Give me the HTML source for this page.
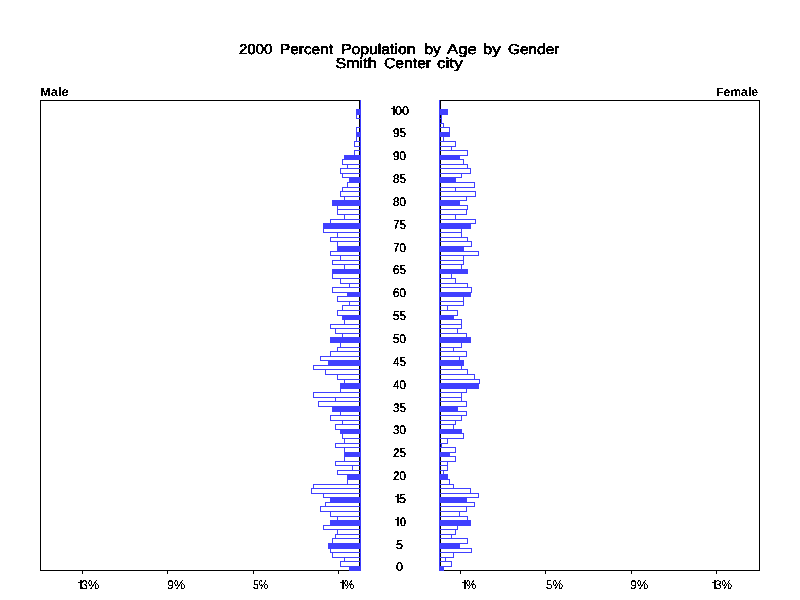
<!DOCTYPE html>
<html><head><meta charset="utf-8"><style>
html,body{margin:0;padding:0;background:#fff;width:800px;height:600px;overflow:hidden}
svg{display:block}
text{font-family:"Liberation Sans", sans-serif;fill:#000;text-rendering:geometricPrecision}
</style></head><body>
<svg width="800" height="600" viewBox="0 0 800 600">
<rect x="0" y="0" width="800" height="600" fill="#fff"/>
<g shape-rendering="crispEdges">
<rect x="40" y="100" width="320" height="1" fill="#000"/>
<rect x="40" y="570" width="320" height="1" fill="#000"/>
<rect x="40" y="100" width="1" height="471" fill="#000"/>
<rect x="359" y="100" width="1" height="471" fill="#000"/>
<rect x="440" y="100" width="320" height="1" fill="#000"/>
<rect x="440" y="570" width="320" height="1" fill="#000"/>
<rect x="440" y="100" width="1" height="471" fill="#000"/>
<rect x="759" y="100" width="1" height="471" fill="#000"/>
<rect x="82" y="571" width="1" height="3" fill="#000"/>
<rect x="167" y="571" width="1" height="3" fill="#000"/>
<rect x="253" y="571" width="1" height="3" fill="#000"/>
<rect x="338" y="571" width="1" height="3" fill="#000"/>
<rect x="460" y="571" width="1" height="3" fill="#000"/>
<rect x="545" y="571" width="1" height="3" fill="#000"/>
<rect x="631" y="571" width="1" height="3" fill="#000"/>
<rect x="716" y="571" width="1" height="3" fill="#000"/>
<rect x="360" y="100" width="1" height="471" fill="#4040ff"/>
<rect x="439" y="100" width="1" height="471" fill="#4040ff"/>
<rect x="356" y="109" width="5" height="6" fill="#4040ff"/>
<rect x="439" y="109" width="9" height="6" fill="#4040ff"/>
<rect x="356" y="114" width="5" height="1" fill="#4040ff"/>
<rect x="356" y="118" width="5" height="1" fill="#4040ff"/>
<rect x="356" y="114" width="1" height="5" fill="#4040ff"/>
<rect x="360" y="114" width="1" height="5" fill="#4040ff"/>
<rect x="439" y="114" width="3" height="1" fill="#4040ff"/>
<rect x="439" y="118" width="3" height="1" fill="#4040ff"/>
<rect x="439" y="114" width="1" height="5" fill="#4040ff"/>
<rect x="441" y="114" width="1" height="5" fill="#4040ff"/>
<rect x="439" y="118" width="3" height="1" fill="#4040ff"/>
<rect x="439" y="123" width="3" height="1" fill="#4040ff"/>
<rect x="439" y="118" width="1" height="6" fill="#4040ff"/>
<rect x="441" y="118" width="1" height="6" fill="#4040ff"/>
<rect x="439" y="123" width="5" height="1" fill="#4040ff"/>
<rect x="439" y="127" width="5" height="1" fill="#4040ff"/>
<rect x="439" y="123" width="1" height="5" fill="#4040ff"/>
<rect x="443" y="123" width="1" height="5" fill="#4040ff"/>
<rect x="356" y="127" width="5" height="1" fill="#4040ff"/>
<rect x="356" y="132" width="5" height="1" fill="#4040ff"/>
<rect x="356" y="127" width="1" height="6" fill="#4040ff"/>
<rect x="360" y="127" width="1" height="6" fill="#4040ff"/>
<rect x="439" y="127" width="11" height="1" fill="#4040ff"/>
<rect x="439" y="132" width="11" height="1" fill="#4040ff"/>
<rect x="439" y="127" width="1" height="6" fill="#4040ff"/>
<rect x="449" y="127" width="1" height="6" fill="#4040ff"/>
<rect x="356" y="132" width="5" height="5" fill="#4040ff"/>
<rect x="439" y="132" width="11" height="5" fill="#4040ff"/>
<rect x="356" y="136" width="5" height="1" fill="#4040ff"/>
<rect x="356" y="141" width="5" height="1" fill="#4040ff"/>
<rect x="356" y="136" width="1" height="6" fill="#4040ff"/>
<rect x="360" y="136" width="1" height="6" fill="#4040ff"/>
<rect x="439" y="136" width="5" height="1" fill="#4040ff"/>
<rect x="439" y="141" width="5" height="1" fill="#4040ff"/>
<rect x="439" y="136" width="1" height="6" fill="#4040ff"/>
<rect x="443" y="136" width="1" height="6" fill="#4040ff"/>
<rect x="354" y="141" width="7" height="1" fill="#4040ff"/>
<rect x="354" y="146" width="7" height="1" fill="#4040ff"/>
<rect x="354" y="141" width="1" height="6" fill="#4040ff"/>
<rect x="360" y="141" width="1" height="6" fill="#4040ff"/>
<rect x="439" y="141" width="17" height="1" fill="#4040ff"/>
<rect x="439" y="146" width="17" height="1" fill="#4040ff"/>
<rect x="439" y="141" width="1" height="6" fill="#4040ff"/>
<rect x="455" y="141" width="1" height="6" fill="#4040ff"/>
<rect x="439" y="146" width="13" height="1" fill="#4040ff"/>
<rect x="439" y="150" width="13" height="1" fill="#4040ff"/>
<rect x="439" y="146" width="1" height="5" fill="#4040ff"/>
<rect x="451" y="146" width="1" height="5" fill="#4040ff"/>
<rect x="354" y="150" width="7" height="1" fill="#4040ff"/>
<rect x="354" y="155" width="7" height="1" fill="#4040ff"/>
<rect x="354" y="150" width="1" height="6" fill="#4040ff"/>
<rect x="360" y="150" width="1" height="6" fill="#4040ff"/>
<rect x="439" y="150" width="29" height="1" fill="#4040ff"/>
<rect x="439" y="155" width="29" height="1" fill="#4040ff"/>
<rect x="439" y="150" width="1" height="6" fill="#4040ff"/>
<rect x="467" y="150" width="1" height="6" fill="#4040ff"/>
<rect x="344" y="155" width="17" height="5" fill="#4040ff"/>
<rect x="439" y="155" width="21" height="5" fill="#4040ff"/>
<rect x="342" y="159" width="19" height="1" fill="#4040ff"/>
<rect x="342" y="164" width="19" height="1" fill="#4040ff"/>
<rect x="342" y="159" width="1" height="6" fill="#4040ff"/>
<rect x="360" y="159" width="1" height="6" fill="#4040ff"/>
<rect x="439" y="159" width="25" height="1" fill="#4040ff"/>
<rect x="439" y="164" width="25" height="1" fill="#4040ff"/>
<rect x="439" y="159" width="1" height="6" fill="#4040ff"/>
<rect x="463" y="159" width="1" height="6" fill="#4040ff"/>
<rect x="347" y="164" width="14" height="1" fill="#4040ff"/>
<rect x="347" y="168" width="14" height="1" fill="#4040ff"/>
<rect x="347" y="164" width="1" height="5" fill="#4040ff"/>
<rect x="360" y="164" width="1" height="5" fill="#4040ff"/>
<rect x="439" y="164" width="29" height="1" fill="#4040ff"/>
<rect x="439" y="168" width="29" height="1" fill="#4040ff"/>
<rect x="439" y="164" width="1" height="5" fill="#4040ff"/>
<rect x="467" y="164" width="1" height="5" fill="#4040ff"/>
<rect x="340" y="168" width="21" height="1" fill="#4040ff"/>
<rect x="340" y="173" width="21" height="1" fill="#4040ff"/>
<rect x="340" y="168" width="1" height="6" fill="#4040ff"/>
<rect x="360" y="168" width="1" height="6" fill="#4040ff"/>
<rect x="439" y="168" width="32" height="1" fill="#4040ff"/>
<rect x="439" y="173" width="32" height="1" fill="#4040ff"/>
<rect x="439" y="168" width="1" height="6" fill="#4040ff"/>
<rect x="470" y="168" width="1" height="6" fill="#4040ff"/>
<rect x="342" y="173" width="19" height="1" fill="#4040ff"/>
<rect x="342" y="177" width="19" height="1" fill="#4040ff"/>
<rect x="342" y="173" width="1" height="5" fill="#4040ff"/>
<rect x="360" y="173" width="1" height="5" fill="#4040ff"/>
<rect x="439" y="173" width="23" height="1" fill="#4040ff"/>
<rect x="439" y="177" width="23" height="1" fill="#4040ff"/>
<rect x="439" y="173" width="1" height="5" fill="#4040ff"/>
<rect x="461" y="173" width="1" height="5" fill="#4040ff"/>
<rect x="349" y="177" width="12" height="6" fill="#4040ff"/>
<rect x="439" y="177" width="17" height="6" fill="#4040ff"/>
<rect x="347" y="182" width="14" height="1" fill="#4040ff"/>
<rect x="347" y="187" width="14" height="1" fill="#4040ff"/>
<rect x="347" y="182" width="1" height="6" fill="#4040ff"/>
<rect x="360" y="182" width="1" height="6" fill="#4040ff"/>
<rect x="439" y="182" width="36" height="1" fill="#4040ff"/>
<rect x="439" y="187" width="36" height="1" fill="#4040ff"/>
<rect x="439" y="182" width="1" height="6" fill="#4040ff"/>
<rect x="474" y="182" width="1" height="6" fill="#4040ff"/>
<rect x="342" y="187" width="19" height="1" fill="#4040ff"/>
<rect x="342" y="191" width="19" height="1" fill="#4040ff"/>
<rect x="342" y="187" width="1" height="5" fill="#4040ff"/>
<rect x="360" y="187" width="1" height="5" fill="#4040ff"/>
<rect x="439" y="187" width="17" height="1" fill="#4040ff"/>
<rect x="439" y="191" width="17" height="1" fill="#4040ff"/>
<rect x="439" y="187" width="1" height="5" fill="#4040ff"/>
<rect x="455" y="187" width="1" height="5" fill="#4040ff"/>
<rect x="340" y="191" width="21" height="1" fill="#4040ff"/>
<rect x="340" y="196" width="21" height="1" fill="#4040ff"/>
<rect x="340" y="191" width="1" height="6" fill="#4040ff"/>
<rect x="360" y="191" width="1" height="6" fill="#4040ff"/>
<rect x="439" y="191" width="37" height="1" fill="#4040ff"/>
<rect x="439" y="196" width="37" height="1" fill="#4040ff"/>
<rect x="439" y="191" width="1" height="6" fill="#4040ff"/>
<rect x="475" y="191" width="1" height="6" fill="#4040ff"/>
<rect x="344" y="196" width="17" height="1" fill="#4040ff"/>
<rect x="344" y="200" width="17" height="1" fill="#4040ff"/>
<rect x="344" y="196" width="1" height="5" fill="#4040ff"/>
<rect x="360" y="196" width="1" height="5" fill="#4040ff"/>
<rect x="439" y="196" width="28" height="1" fill="#4040ff"/>
<rect x="439" y="200" width="28" height="1" fill="#4040ff"/>
<rect x="439" y="196" width="1" height="5" fill="#4040ff"/>
<rect x="466" y="196" width="1" height="5" fill="#4040ff"/>
<rect x="332" y="200" width="29" height="6" fill="#4040ff"/>
<rect x="439" y="200" width="21" height="6" fill="#4040ff"/>
<rect x="337" y="205" width="24" height="1" fill="#4040ff"/>
<rect x="337" y="209" width="24" height="1" fill="#4040ff"/>
<rect x="337" y="205" width="1" height="5" fill="#4040ff"/>
<rect x="360" y="205" width="1" height="5" fill="#4040ff"/>
<rect x="439" y="205" width="29" height="1" fill="#4040ff"/>
<rect x="439" y="209" width="29" height="1" fill="#4040ff"/>
<rect x="439" y="205" width="1" height="5" fill="#4040ff"/>
<rect x="467" y="205" width="1" height="5" fill="#4040ff"/>
<rect x="337" y="209" width="24" height="1" fill="#4040ff"/>
<rect x="337" y="214" width="24" height="1" fill="#4040ff"/>
<rect x="337" y="209" width="1" height="6" fill="#4040ff"/>
<rect x="360" y="209" width="1" height="6" fill="#4040ff"/>
<rect x="439" y="209" width="28" height="1" fill="#4040ff"/>
<rect x="439" y="214" width="28" height="1" fill="#4040ff"/>
<rect x="439" y="209" width="1" height="6" fill="#4040ff"/>
<rect x="466" y="209" width="1" height="6" fill="#4040ff"/>
<rect x="344" y="214" width="17" height="1" fill="#4040ff"/>
<rect x="344" y="219" width="17" height="1" fill="#4040ff"/>
<rect x="344" y="214" width="1" height="6" fill="#4040ff"/>
<rect x="360" y="214" width="1" height="6" fill="#4040ff"/>
<rect x="439" y="214" width="17" height="1" fill="#4040ff"/>
<rect x="439" y="219" width="17" height="1" fill="#4040ff"/>
<rect x="439" y="214" width="1" height="6" fill="#4040ff"/>
<rect x="455" y="214" width="1" height="6" fill="#4040ff"/>
<rect x="330" y="219" width="31" height="1" fill="#4040ff"/>
<rect x="330" y="223" width="31" height="1" fill="#4040ff"/>
<rect x="330" y="219" width="1" height="5" fill="#4040ff"/>
<rect x="360" y="219" width="1" height="5" fill="#4040ff"/>
<rect x="439" y="219" width="37" height="1" fill="#4040ff"/>
<rect x="439" y="223" width="37" height="1" fill="#4040ff"/>
<rect x="439" y="219" width="1" height="5" fill="#4040ff"/>
<rect x="475" y="219" width="1" height="5" fill="#4040ff"/>
<rect x="323" y="223" width="38" height="6" fill="#4040ff"/>
<rect x="439" y="223" width="32" height="6" fill="#4040ff"/>
<rect x="323" y="228" width="38" height="1" fill="#4040ff"/>
<rect x="323" y="232" width="38" height="1" fill="#4040ff"/>
<rect x="323" y="228" width="1" height="5" fill="#4040ff"/>
<rect x="360" y="228" width="1" height="5" fill="#4040ff"/>
<rect x="439" y="228" width="23" height="1" fill="#4040ff"/>
<rect x="439" y="232" width="23" height="1" fill="#4040ff"/>
<rect x="439" y="228" width="1" height="5" fill="#4040ff"/>
<rect x="461" y="228" width="1" height="5" fill="#4040ff"/>
<rect x="337" y="232" width="24" height="1" fill="#4040ff"/>
<rect x="337" y="237" width="24" height="1" fill="#4040ff"/>
<rect x="337" y="232" width="1" height="6" fill="#4040ff"/>
<rect x="360" y="232" width="1" height="6" fill="#4040ff"/>
<rect x="439" y="232" width="23" height="1" fill="#4040ff"/>
<rect x="439" y="237" width="23" height="1" fill="#4040ff"/>
<rect x="439" y="232" width="1" height="6" fill="#4040ff"/>
<rect x="461" y="232" width="1" height="6" fill="#4040ff"/>
<rect x="330" y="237" width="31" height="1" fill="#4040ff"/>
<rect x="330" y="241" width="31" height="1" fill="#4040ff"/>
<rect x="330" y="237" width="1" height="5" fill="#4040ff"/>
<rect x="360" y="237" width="1" height="5" fill="#4040ff"/>
<rect x="439" y="237" width="29" height="1" fill="#4040ff"/>
<rect x="439" y="241" width="29" height="1" fill="#4040ff"/>
<rect x="439" y="237" width="1" height="5" fill="#4040ff"/>
<rect x="467" y="237" width="1" height="5" fill="#4040ff"/>
<rect x="337" y="241" width="24" height="1" fill="#4040ff"/>
<rect x="337" y="246" width="24" height="1" fill="#4040ff"/>
<rect x="337" y="241" width="1" height="6" fill="#4040ff"/>
<rect x="360" y="241" width="1" height="6" fill="#4040ff"/>
<rect x="439" y="241" width="33" height="1" fill="#4040ff"/>
<rect x="439" y="246" width="33" height="1" fill="#4040ff"/>
<rect x="439" y="241" width="1" height="6" fill="#4040ff"/>
<rect x="471" y="241" width="1" height="6" fill="#4040ff"/>
<rect x="337" y="246" width="24" height="6" fill="#4040ff"/>
<rect x="439" y="246" width="25" height="6" fill="#4040ff"/>
<rect x="330" y="251" width="31" height="1" fill="#4040ff"/>
<rect x="330" y="255" width="31" height="1" fill="#4040ff"/>
<rect x="330" y="251" width="1" height="5" fill="#4040ff"/>
<rect x="360" y="251" width="1" height="5" fill="#4040ff"/>
<rect x="439" y="251" width="40" height="1" fill="#4040ff"/>
<rect x="439" y="255" width="40" height="1" fill="#4040ff"/>
<rect x="439" y="251" width="1" height="5" fill="#4040ff"/>
<rect x="478" y="251" width="1" height="5" fill="#4040ff"/>
<rect x="340" y="255" width="21" height="1" fill="#4040ff"/>
<rect x="340" y="260" width="21" height="1" fill="#4040ff"/>
<rect x="340" y="255" width="1" height="6" fill="#4040ff"/>
<rect x="360" y="255" width="1" height="6" fill="#4040ff"/>
<rect x="439" y="255" width="25" height="1" fill="#4040ff"/>
<rect x="439" y="260" width="25" height="1" fill="#4040ff"/>
<rect x="439" y="255" width="1" height="6" fill="#4040ff"/>
<rect x="463" y="255" width="1" height="6" fill="#4040ff"/>
<rect x="332" y="260" width="29" height="1" fill="#4040ff"/>
<rect x="332" y="264" width="29" height="1" fill="#4040ff"/>
<rect x="332" y="260" width="1" height="5" fill="#4040ff"/>
<rect x="360" y="260" width="1" height="5" fill="#4040ff"/>
<rect x="439" y="260" width="25" height="1" fill="#4040ff"/>
<rect x="439" y="264" width="25" height="1" fill="#4040ff"/>
<rect x="439" y="260" width="1" height="5" fill="#4040ff"/>
<rect x="463" y="260" width="1" height="5" fill="#4040ff"/>
<rect x="344" y="264" width="17" height="1" fill="#4040ff"/>
<rect x="344" y="269" width="17" height="1" fill="#4040ff"/>
<rect x="344" y="264" width="1" height="6" fill="#4040ff"/>
<rect x="360" y="264" width="1" height="6" fill="#4040ff"/>
<rect x="439" y="264" width="23" height="1" fill="#4040ff"/>
<rect x="439" y="269" width="23" height="1" fill="#4040ff"/>
<rect x="439" y="264" width="1" height="6" fill="#4040ff"/>
<rect x="461" y="264" width="1" height="6" fill="#4040ff"/>
<rect x="332" y="269" width="29" height="5" fill="#4040ff"/>
<rect x="439" y="269" width="29" height="5" fill="#4040ff"/>
<rect x="332" y="273" width="29" height="1" fill="#4040ff"/>
<rect x="332" y="278" width="29" height="1" fill="#4040ff"/>
<rect x="332" y="273" width="1" height="6" fill="#4040ff"/>
<rect x="360" y="273" width="1" height="6" fill="#4040ff"/>
<rect x="439" y="273" width="13" height="1" fill="#4040ff"/>
<rect x="439" y="278" width="13" height="1" fill="#4040ff"/>
<rect x="439" y="273" width="1" height="6" fill="#4040ff"/>
<rect x="451" y="273" width="1" height="6" fill="#4040ff"/>
<rect x="340" y="278" width="21" height="1" fill="#4040ff"/>
<rect x="340" y="283" width="21" height="1" fill="#4040ff"/>
<rect x="340" y="278" width="1" height="6" fill="#4040ff"/>
<rect x="360" y="278" width="1" height="6" fill="#4040ff"/>
<rect x="439" y="278" width="17" height="1" fill="#4040ff"/>
<rect x="439" y="283" width="17" height="1" fill="#4040ff"/>
<rect x="439" y="278" width="1" height="6" fill="#4040ff"/>
<rect x="455" y="278" width="1" height="6" fill="#4040ff"/>
<rect x="349" y="283" width="12" height="1" fill="#4040ff"/>
<rect x="349" y="287" width="12" height="1" fill="#4040ff"/>
<rect x="349" y="283" width="1" height="5" fill="#4040ff"/>
<rect x="360" y="283" width="1" height="5" fill="#4040ff"/>
<rect x="439" y="283" width="29" height="1" fill="#4040ff"/>
<rect x="439" y="287" width="29" height="1" fill="#4040ff"/>
<rect x="439" y="283" width="1" height="5" fill="#4040ff"/>
<rect x="467" y="283" width="1" height="5" fill="#4040ff"/>
<rect x="332" y="287" width="29" height="1" fill="#4040ff"/>
<rect x="332" y="292" width="29" height="1" fill="#4040ff"/>
<rect x="332" y="287" width="1" height="6" fill="#4040ff"/>
<rect x="360" y="287" width="1" height="6" fill="#4040ff"/>
<rect x="439" y="287" width="33" height="1" fill="#4040ff"/>
<rect x="439" y="292" width="33" height="1" fill="#4040ff"/>
<rect x="439" y="287" width="1" height="6" fill="#4040ff"/>
<rect x="471" y="287" width="1" height="6" fill="#4040ff"/>
<rect x="347" y="292" width="14" height="5" fill="#4040ff"/>
<rect x="439" y="292" width="32" height="5" fill="#4040ff"/>
<rect x="337" y="296" width="24" height="1" fill="#4040ff"/>
<rect x="337" y="301" width="24" height="1" fill="#4040ff"/>
<rect x="337" y="296" width="1" height="6" fill="#4040ff"/>
<rect x="360" y="296" width="1" height="6" fill="#4040ff"/>
<rect x="439" y="296" width="25" height="1" fill="#4040ff"/>
<rect x="439" y="301" width="25" height="1" fill="#4040ff"/>
<rect x="439" y="296" width="1" height="6" fill="#4040ff"/>
<rect x="463" y="296" width="1" height="6" fill="#4040ff"/>
<rect x="349" y="301" width="12" height="1" fill="#4040ff"/>
<rect x="349" y="305" width="12" height="1" fill="#4040ff"/>
<rect x="349" y="301" width="1" height="5" fill="#4040ff"/>
<rect x="360" y="301" width="1" height="5" fill="#4040ff"/>
<rect x="439" y="301" width="25" height="1" fill="#4040ff"/>
<rect x="439" y="305" width="25" height="1" fill="#4040ff"/>
<rect x="439" y="301" width="1" height="5" fill="#4040ff"/>
<rect x="463" y="301" width="1" height="5" fill="#4040ff"/>
<rect x="342" y="305" width="19" height="1" fill="#4040ff"/>
<rect x="342" y="310" width="19" height="1" fill="#4040ff"/>
<rect x="342" y="305" width="1" height="6" fill="#4040ff"/>
<rect x="360" y="305" width="1" height="6" fill="#4040ff"/>
<rect x="439" y="305" width="9" height="1" fill="#4040ff"/>
<rect x="439" y="310" width="9" height="1" fill="#4040ff"/>
<rect x="439" y="305" width="1" height="6" fill="#4040ff"/>
<rect x="447" y="305" width="1" height="6" fill="#4040ff"/>
<rect x="337" y="310" width="24" height="1" fill="#4040ff"/>
<rect x="337" y="315" width="24" height="1" fill="#4040ff"/>
<rect x="337" y="310" width="1" height="6" fill="#4040ff"/>
<rect x="360" y="310" width="1" height="6" fill="#4040ff"/>
<rect x="439" y="310" width="19" height="1" fill="#4040ff"/>
<rect x="439" y="315" width="19" height="1" fill="#4040ff"/>
<rect x="439" y="310" width="1" height="6" fill="#4040ff"/>
<rect x="457" y="310" width="1" height="6" fill="#4040ff"/>
<rect x="342" y="315" width="19" height="5" fill="#4040ff"/>
<rect x="439" y="315" width="15" height="5" fill="#4040ff"/>
<rect x="344" y="319" width="17" height="1" fill="#4040ff"/>
<rect x="344" y="324" width="17" height="1" fill="#4040ff"/>
<rect x="344" y="319" width="1" height="6" fill="#4040ff"/>
<rect x="360" y="319" width="1" height="6" fill="#4040ff"/>
<rect x="439" y="319" width="23" height="1" fill="#4040ff"/>
<rect x="439" y="324" width="23" height="1" fill="#4040ff"/>
<rect x="439" y="319" width="1" height="6" fill="#4040ff"/>
<rect x="461" y="319" width="1" height="6" fill="#4040ff"/>
<rect x="330" y="324" width="31" height="1" fill="#4040ff"/>
<rect x="330" y="328" width="31" height="1" fill="#4040ff"/>
<rect x="330" y="324" width="1" height="5" fill="#4040ff"/>
<rect x="360" y="324" width="1" height="5" fill="#4040ff"/>
<rect x="439" y="324" width="23" height="1" fill="#4040ff"/>
<rect x="439" y="328" width="23" height="1" fill="#4040ff"/>
<rect x="439" y="324" width="1" height="5" fill="#4040ff"/>
<rect x="461" y="324" width="1" height="5" fill="#4040ff"/>
<rect x="335" y="328" width="26" height="1" fill="#4040ff"/>
<rect x="335" y="333" width="26" height="1" fill="#4040ff"/>
<rect x="335" y="328" width="1" height="6" fill="#4040ff"/>
<rect x="360" y="328" width="1" height="6" fill="#4040ff"/>
<rect x="439" y="328" width="19" height="1" fill="#4040ff"/>
<rect x="439" y="333" width="19" height="1" fill="#4040ff"/>
<rect x="439" y="328" width="1" height="6" fill="#4040ff"/>
<rect x="457" y="328" width="1" height="6" fill="#4040ff"/>
<rect x="342" y="333" width="19" height="1" fill="#4040ff"/>
<rect x="342" y="337" width="19" height="1" fill="#4040ff"/>
<rect x="342" y="333" width="1" height="5" fill="#4040ff"/>
<rect x="360" y="333" width="1" height="5" fill="#4040ff"/>
<rect x="439" y="333" width="28" height="1" fill="#4040ff"/>
<rect x="439" y="337" width="28" height="1" fill="#4040ff"/>
<rect x="439" y="333" width="1" height="5" fill="#4040ff"/>
<rect x="466" y="333" width="1" height="5" fill="#4040ff"/>
<rect x="330" y="337" width="31" height="6" fill="#4040ff"/>
<rect x="439" y="337" width="32" height="6" fill="#4040ff"/>
<rect x="340" y="342" width="21" height="1" fill="#4040ff"/>
<rect x="340" y="347" width="21" height="1" fill="#4040ff"/>
<rect x="340" y="342" width="1" height="6" fill="#4040ff"/>
<rect x="360" y="342" width="1" height="6" fill="#4040ff"/>
<rect x="439" y="342" width="23" height="1" fill="#4040ff"/>
<rect x="439" y="347" width="23" height="1" fill="#4040ff"/>
<rect x="439" y="342" width="1" height="6" fill="#4040ff"/>
<rect x="461" y="342" width="1" height="6" fill="#4040ff"/>
<rect x="337" y="347" width="24" height="1" fill="#4040ff"/>
<rect x="337" y="351" width="24" height="1" fill="#4040ff"/>
<rect x="337" y="347" width="1" height="5" fill="#4040ff"/>
<rect x="360" y="347" width="1" height="5" fill="#4040ff"/>
<rect x="439" y="347" width="15" height="1" fill="#4040ff"/>
<rect x="439" y="351" width="15" height="1" fill="#4040ff"/>
<rect x="439" y="347" width="1" height="5" fill="#4040ff"/>
<rect x="453" y="347" width="1" height="5" fill="#4040ff"/>
<rect x="330" y="351" width="31" height="1" fill="#4040ff"/>
<rect x="330" y="356" width="31" height="1" fill="#4040ff"/>
<rect x="330" y="351" width="1" height="6" fill="#4040ff"/>
<rect x="360" y="351" width="1" height="6" fill="#4040ff"/>
<rect x="439" y="351" width="28" height="1" fill="#4040ff"/>
<rect x="439" y="356" width="28" height="1" fill="#4040ff"/>
<rect x="439" y="351" width="1" height="6" fill="#4040ff"/>
<rect x="466" y="351" width="1" height="6" fill="#4040ff"/>
<rect x="320" y="356" width="41" height="1" fill="#4040ff"/>
<rect x="320" y="360" width="41" height="1" fill="#4040ff"/>
<rect x="320" y="356" width="1" height="5" fill="#4040ff"/>
<rect x="360" y="356" width="1" height="5" fill="#4040ff"/>
<rect x="439" y="356" width="21" height="1" fill="#4040ff"/>
<rect x="439" y="360" width="21" height="1" fill="#4040ff"/>
<rect x="439" y="356" width="1" height="5" fill="#4040ff"/>
<rect x="459" y="356" width="1" height="5" fill="#4040ff"/>
<rect x="328" y="360" width="33" height="6" fill="#4040ff"/>
<rect x="439" y="360" width="25" height="6" fill="#4040ff"/>
<rect x="313" y="365" width="48" height="1" fill="#4040ff"/>
<rect x="313" y="369" width="48" height="1" fill="#4040ff"/>
<rect x="313" y="365" width="1" height="5" fill="#4040ff"/>
<rect x="360" y="365" width="1" height="5" fill="#4040ff"/>
<rect x="439" y="365" width="23" height="1" fill="#4040ff"/>
<rect x="439" y="369" width="23" height="1" fill="#4040ff"/>
<rect x="439" y="365" width="1" height="5" fill="#4040ff"/>
<rect x="461" y="365" width="1" height="5" fill="#4040ff"/>
<rect x="325" y="369" width="36" height="1" fill="#4040ff"/>
<rect x="325" y="374" width="36" height="1" fill="#4040ff"/>
<rect x="325" y="369" width="1" height="6" fill="#4040ff"/>
<rect x="360" y="369" width="1" height="6" fill="#4040ff"/>
<rect x="439" y="369" width="29" height="1" fill="#4040ff"/>
<rect x="439" y="374" width="29" height="1" fill="#4040ff"/>
<rect x="439" y="369" width="1" height="6" fill="#4040ff"/>
<rect x="467" y="369" width="1" height="6" fill="#4040ff"/>
<rect x="337" y="374" width="24" height="1" fill="#4040ff"/>
<rect x="337" y="379" width="24" height="1" fill="#4040ff"/>
<rect x="337" y="374" width="1" height="6" fill="#4040ff"/>
<rect x="360" y="374" width="1" height="6" fill="#4040ff"/>
<rect x="439" y="374" width="36" height="1" fill="#4040ff"/>
<rect x="439" y="379" width="36" height="1" fill="#4040ff"/>
<rect x="439" y="374" width="1" height="6" fill="#4040ff"/>
<rect x="474" y="374" width="1" height="6" fill="#4040ff"/>
<rect x="344" y="379" width="17" height="1" fill="#4040ff"/>
<rect x="344" y="383" width="17" height="1" fill="#4040ff"/>
<rect x="344" y="379" width="1" height="5" fill="#4040ff"/>
<rect x="360" y="379" width="1" height="5" fill="#4040ff"/>
<rect x="439" y="379" width="41" height="1" fill="#4040ff"/>
<rect x="439" y="383" width="41" height="1" fill="#4040ff"/>
<rect x="439" y="379" width="1" height="5" fill="#4040ff"/>
<rect x="479" y="379" width="1" height="5" fill="#4040ff"/>
<rect x="340" y="383" width="21" height="6" fill="#4040ff"/>
<rect x="439" y="383" width="40" height="6" fill="#4040ff"/>
<rect x="340" y="388" width="21" height="1" fill="#4040ff"/>
<rect x="340" y="392" width="21" height="1" fill="#4040ff"/>
<rect x="340" y="388" width="1" height="5" fill="#4040ff"/>
<rect x="360" y="388" width="1" height="5" fill="#4040ff"/>
<rect x="439" y="388" width="28" height="1" fill="#4040ff"/>
<rect x="439" y="392" width="28" height="1" fill="#4040ff"/>
<rect x="439" y="388" width="1" height="5" fill="#4040ff"/>
<rect x="466" y="388" width="1" height="5" fill="#4040ff"/>
<rect x="313" y="392" width="48" height="1" fill="#4040ff"/>
<rect x="313" y="397" width="48" height="1" fill="#4040ff"/>
<rect x="313" y="392" width="1" height="6" fill="#4040ff"/>
<rect x="360" y="392" width="1" height="6" fill="#4040ff"/>
<rect x="439" y="392" width="23" height="1" fill="#4040ff"/>
<rect x="439" y="397" width="23" height="1" fill="#4040ff"/>
<rect x="439" y="392" width="1" height="6" fill="#4040ff"/>
<rect x="461" y="392" width="1" height="6" fill="#4040ff"/>
<rect x="335" y="397" width="26" height="1" fill="#4040ff"/>
<rect x="335" y="401" width="26" height="1" fill="#4040ff"/>
<rect x="335" y="397" width="1" height="5" fill="#4040ff"/>
<rect x="360" y="397" width="1" height="5" fill="#4040ff"/>
<rect x="439" y="397" width="23" height="1" fill="#4040ff"/>
<rect x="439" y="401" width="23" height="1" fill="#4040ff"/>
<rect x="439" y="397" width="1" height="5" fill="#4040ff"/>
<rect x="461" y="397" width="1" height="5" fill="#4040ff"/>
<rect x="318" y="401" width="43" height="1" fill="#4040ff"/>
<rect x="318" y="406" width="43" height="1" fill="#4040ff"/>
<rect x="318" y="401" width="1" height="6" fill="#4040ff"/>
<rect x="360" y="401" width="1" height="6" fill="#4040ff"/>
<rect x="439" y="401" width="28" height="1" fill="#4040ff"/>
<rect x="439" y="406" width="28" height="1" fill="#4040ff"/>
<rect x="439" y="401" width="1" height="6" fill="#4040ff"/>
<rect x="466" y="401" width="1" height="6" fill="#4040ff"/>
<rect x="332" y="406" width="29" height="6" fill="#4040ff"/>
<rect x="439" y="406" width="19" height="6" fill="#4040ff"/>
<rect x="340" y="411" width="21" height="1" fill="#4040ff"/>
<rect x="340" y="415" width="21" height="1" fill="#4040ff"/>
<rect x="340" y="411" width="1" height="5" fill="#4040ff"/>
<rect x="360" y="411" width="1" height="5" fill="#4040ff"/>
<rect x="439" y="411" width="28" height="1" fill="#4040ff"/>
<rect x="439" y="415" width="28" height="1" fill="#4040ff"/>
<rect x="439" y="411" width="1" height="5" fill="#4040ff"/>
<rect x="466" y="411" width="1" height="5" fill="#4040ff"/>
<rect x="330" y="415" width="31" height="1" fill="#4040ff"/>
<rect x="330" y="420" width="31" height="1" fill="#4040ff"/>
<rect x="330" y="415" width="1" height="6" fill="#4040ff"/>
<rect x="360" y="415" width="1" height="6" fill="#4040ff"/>
<rect x="439" y="415" width="23" height="1" fill="#4040ff"/>
<rect x="439" y="420" width="23" height="1" fill="#4040ff"/>
<rect x="439" y="415" width="1" height="6" fill="#4040ff"/>
<rect x="461" y="415" width="1" height="6" fill="#4040ff"/>
<rect x="342" y="420" width="19" height="1" fill="#4040ff"/>
<rect x="342" y="424" width="19" height="1" fill="#4040ff"/>
<rect x="342" y="420" width="1" height="5" fill="#4040ff"/>
<rect x="360" y="420" width="1" height="5" fill="#4040ff"/>
<rect x="439" y="420" width="17" height="1" fill="#4040ff"/>
<rect x="439" y="424" width="17" height="1" fill="#4040ff"/>
<rect x="439" y="420" width="1" height="5" fill="#4040ff"/>
<rect x="455" y="420" width="1" height="5" fill="#4040ff"/>
<rect x="335" y="424" width="26" height="1" fill="#4040ff"/>
<rect x="335" y="429" width="26" height="1" fill="#4040ff"/>
<rect x="335" y="424" width="1" height="6" fill="#4040ff"/>
<rect x="360" y="424" width="1" height="6" fill="#4040ff"/>
<rect x="439" y="424" width="15" height="1" fill="#4040ff"/>
<rect x="439" y="429" width="15" height="1" fill="#4040ff"/>
<rect x="439" y="424" width="1" height="6" fill="#4040ff"/>
<rect x="453" y="424" width="1" height="6" fill="#4040ff"/>
<rect x="340" y="429" width="21" height="5" fill="#4040ff"/>
<rect x="439" y="429" width="23" height="5" fill="#4040ff"/>
<rect x="342" y="433" width="19" height="1" fill="#4040ff"/>
<rect x="342" y="438" width="19" height="1" fill="#4040ff"/>
<rect x="342" y="433" width="1" height="6" fill="#4040ff"/>
<rect x="360" y="433" width="1" height="6" fill="#4040ff"/>
<rect x="439" y="433" width="25" height="1" fill="#4040ff"/>
<rect x="439" y="438" width="25" height="1" fill="#4040ff"/>
<rect x="439" y="433" width="1" height="6" fill="#4040ff"/>
<rect x="463" y="433" width="1" height="6" fill="#4040ff"/>
<rect x="344" y="438" width="17" height="1" fill="#4040ff"/>
<rect x="344" y="443" width="17" height="1" fill="#4040ff"/>
<rect x="344" y="438" width="1" height="6" fill="#4040ff"/>
<rect x="360" y="438" width="1" height="6" fill="#4040ff"/>
<rect x="439" y="438" width="9" height="1" fill="#4040ff"/>
<rect x="439" y="443" width="9" height="1" fill="#4040ff"/>
<rect x="439" y="438" width="1" height="6" fill="#4040ff"/>
<rect x="447" y="438" width="1" height="6" fill="#4040ff"/>
<rect x="335" y="443" width="26" height="1" fill="#4040ff"/>
<rect x="335" y="447" width="26" height="1" fill="#4040ff"/>
<rect x="335" y="443" width="1" height="5" fill="#4040ff"/>
<rect x="360" y="443" width="1" height="5" fill="#4040ff"/>
<rect x="439" y="443" width="3" height="1" fill="#4040ff"/>
<rect x="439" y="447" width="3" height="1" fill="#4040ff"/>
<rect x="439" y="443" width="1" height="5" fill="#4040ff"/>
<rect x="441" y="443" width="1" height="5" fill="#4040ff"/>
<rect x="344" y="447" width="17" height="1" fill="#4040ff"/>
<rect x="344" y="452" width="17" height="1" fill="#4040ff"/>
<rect x="344" y="447" width="1" height="6" fill="#4040ff"/>
<rect x="360" y="447" width="1" height="6" fill="#4040ff"/>
<rect x="439" y="447" width="17" height="1" fill="#4040ff"/>
<rect x="439" y="452" width="17" height="1" fill="#4040ff"/>
<rect x="439" y="447" width="1" height="6" fill="#4040ff"/>
<rect x="455" y="447" width="1" height="6" fill="#4040ff"/>
<rect x="344" y="452" width="17" height="5" fill="#4040ff"/>
<rect x="439" y="452" width="11" height="5" fill="#4040ff"/>
<rect x="344" y="456" width="17" height="1" fill="#4040ff"/>
<rect x="344" y="461" width="17" height="1" fill="#4040ff"/>
<rect x="344" y="456" width="1" height="6" fill="#4040ff"/>
<rect x="360" y="456" width="1" height="6" fill="#4040ff"/>
<rect x="439" y="456" width="17" height="1" fill="#4040ff"/>
<rect x="439" y="461" width="17" height="1" fill="#4040ff"/>
<rect x="439" y="456" width="1" height="6" fill="#4040ff"/>
<rect x="455" y="456" width="1" height="6" fill="#4040ff"/>
<rect x="335" y="461" width="26" height="1" fill="#4040ff"/>
<rect x="335" y="465" width="26" height="1" fill="#4040ff"/>
<rect x="335" y="461" width="1" height="5" fill="#4040ff"/>
<rect x="360" y="461" width="1" height="5" fill="#4040ff"/>
<rect x="439" y="461" width="9" height="1" fill="#4040ff"/>
<rect x="439" y="465" width="9" height="1" fill="#4040ff"/>
<rect x="439" y="461" width="1" height="5" fill="#4040ff"/>
<rect x="447" y="461" width="1" height="5" fill="#4040ff"/>
<rect x="352" y="465" width="9" height="1" fill="#4040ff"/>
<rect x="352" y="470" width="9" height="1" fill="#4040ff"/>
<rect x="352" y="465" width="1" height="6" fill="#4040ff"/>
<rect x="360" y="465" width="1" height="6" fill="#4040ff"/>
<rect x="439" y="465" width="9" height="1" fill="#4040ff"/>
<rect x="439" y="470" width="9" height="1" fill="#4040ff"/>
<rect x="439" y="465" width="1" height="6" fill="#4040ff"/>
<rect x="447" y="465" width="1" height="6" fill="#4040ff"/>
<rect x="337" y="470" width="24" height="1" fill="#4040ff"/>
<rect x="337" y="474" width="24" height="1" fill="#4040ff"/>
<rect x="337" y="470" width="1" height="5" fill="#4040ff"/>
<rect x="360" y="470" width="1" height="5" fill="#4040ff"/>
<rect x="439" y="470" width="5" height="1" fill="#4040ff"/>
<rect x="439" y="474" width="5" height="1" fill="#4040ff"/>
<rect x="439" y="470" width="1" height="5" fill="#4040ff"/>
<rect x="443" y="470" width="1" height="5" fill="#4040ff"/>
<rect x="347" y="474" width="14" height="6" fill="#4040ff"/>
<rect x="439" y="474" width="9" height="6" fill="#4040ff"/>
<rect x="347" y="479" width="14" height="1" fill="#4040ff"/>
<rect x="347" y="484" width="14" height="1" fill="#4040ff"/>
<rect x="347" y="479" width="1" height="6" fill="#4040ff"/>
<rect x="360" y="479" width="1" height="6" fill="#4040ff"/>
<rect x="439" y="479" width="11" height="1" fill="#4040ff"/>
<rect x="439" y="484" width="11" height="1" fill="#4040ff"/>
<rect x="439" y="479" width="1" height="6" fill="#4040ff"/>
<rect x="449" y="479" width="1" height="6" fill="#4040ff"/>
<rect x="313" y="484" width="48" height="1" fill="#4040ff"/>
<rect x="313" y="488" width="48" height="1" fill="#4040ff"/>
<rect x="313" y="484" width="1" height="5" fill="#4040ff"/>
<rect x="360" y="484" width="1" height="5" fill="#4040ff"/>
<rect x="439" y="484" width="15" height="1" fill="#4040ff"/>
<rect x="439" y="488" width="15" height="1" fill="#4040ff"/>
<rect x="439" y="484" width="1" height="5" fill="#4040ff"/>
<rect x="453" y="484" width="1" height="5" fill="#4040ff"/>
<rect x="311" y="488" width="50" height="1" fill="#4040ff"/>
<rect x="311" y="493" width="50" height="1" fill="#4040ff"/>
<rect x="311" y="488" width="1" height="6" fill="#4040ff"/>
<rect x="360" y="488" width="1" height="6" fill="#4040ff"/>
<rect x="439" y="488" width="32" height="1" fill="#4040ff"/>
<rect x="439" y="493" width="32" height="1" fill="#4040ff"/>
<rect x="439" y="488" width="1" height="6" fill="#4040ff"/>
<rect x="470" y="488" width="1" height="6" fill="#4040ff"/>
<rect x="323" y="493" width="38" height="1" fill="#4040ff"/>
<rect x="323" y="497" width="38" height="1" fill="#4040ff"/>
<rect x="323" y="493" width="1" height="5" fill="#4040ff"/>
<rect x="360" y="493" width="1" height="5" fill="#4040ff"/>
<rect x="439" y="493" width="40" height="1" fill="#4040ff"/>
<rect x="439" y="497" width="40" height="1" fill="#4040ff"/>
<rect x="439" y="493" width="1" height="5" fill="#4040ff"/>
<rect x="478" y="493" width="1" height="5" fill="#4040ff"/>
<rect x="330" y="497" width="31" height="6" fill="#4040ff"/>
<rect x="439" y="497" width="28" height="6" fill="#4040ff"/>
<rect x="325" y="502" width="36" height="1" fill="#4040ff"/>
<rect x="325" y="506" width="36" height="1" fill="#4040ff"/>
<rect x="325" y="502" width="1" height="5" fill="#4040ff"/>
<rect x="360" y="502" width="1" height="5" fill="#4040ff"/>
<rect x="439" y="502" width="36" height="1" fill="#4040ff"/>
<rect x="439" y="506" width="36" height="1" fill="#4040ff"/>
<rect x="439" y="502" width="1" height="5" fill="#4040ff"/>
<rect x="474" y="502" width="1" height="5" fill="#4040ff"/>
<rect x="320" y="506" width="41" height="1" fill="#4040ff"/>
<rect x="320" y="511" width="41" height="1" fill="#4040ff"/>
<rect x="320" y="506" width="1" height="6" fill="#4040ff"/>
<rect x="360" y="506" width="1" height="6" fill="#4040ff"/>
<rect x="439" y="506" width="28" height="1" fill="#4040ff"/>
<rect x="439" y="511" width="28" height="1" fill="#4040ff"/>
<rect x="439" y="506" width="1" height="6" fill="#4040ff"/>
<rect x="466" y="506" width="1" height="6" fill="#4040ff"/>
<rect x="330" y="511" width="31" height="1" fill="#4040ff"/>
<rect x="330" y="516" width="31" height="1" fill="#4040ff"/>
<rect x="330" y="511" width="1" height="6" fill="#4040ff"/>
<rect x="360" y="511" width="1" height="6" fill="#4040ff"/>
<rect x="439" y="511" width="21" height="1" fill="#4040ff"/>
<rect x="439" y="516" width="21" height="1" fill="#4040ff"/>
<rect x="439" y="511" width="1" height="6" fill="#4040ff"/>
<rect x="459" y="511" width="1" height="6" fill="#4040ff"/>
<rect x="337" y="516" width="24" height="1" fill="#4040ff"/>
<rect x="337" y="520" width="24" height="1" fill="#4040ff"/>
<rect x="337" y="516" width="1" height="5" fill="#4040ff"/>
<rect x="360" y="516" width="1" height="5" fill="#4040ff"/>
<rect x="439" y="516" width="29" height="1" fill="#4040ff"/>
<rect x="439" y="520" width="29" height="1" fill="#4040ff"/>
<rect x="439" y="516" width="1" height="5" fill="#4040ff"/>
<rect x="467" y="516" width="1" height="5" fill="#4040ff"/>
<rect x="330" y="520" width="31" height="6" fill="#4040ff"/>
<rect x="439" y="520" width="32" height="6" fill="#4040ff"/>
<rect x="323" y="525" width="38" height="1" fill="#4040ff"/>
<rect x="323" y="529" width="38" height="1" fill="#4040ff"/>
<rect x="323" y="525" width="1" height="5" fill="#4040ff"/>
<rect x="360" y="525" width="1" height="5" fill="#4040ff"/>
<rect x="439" y="525" width="19" height="1" fill="#4040ff"/>
<rect x="439" y="529" width="19" height="1" fill="#4040ff"/>
<rect x="439" y="525" width="1" height="5" fill="#4040ff"/>
<rect x="457" y="525" width="1" height="5" fill="#4040ff"/>
<rect x="337" y="529" width="24" height="1" fill="#4040ff"/>
<rect x="337" y="534" width="24" height="1" fill="#4040ff"/>
<rect x="337" y="529" width="1" height="6" fill="#4040ff"/>
<rect x="360" y="529" width="1" height="6" fill="#4040ff"/>
<rect x="439" y="529" width="17" height="1" fill="#4040ff"/>
<rect x="439" y="534" width="17" height="1" fill="#4040ff"/>
<rect x="439" y="529" width="1" height="6" fill="#4040ff"/>
<rect x="455" y="529" width="1" height="6" fill="#4040ff"/>
<rect x="335" y="534" width="26" height="1" fill="#4040ff"/>
<rect x="335" y="538" width="26" height="1" fill="#4040ff"/>
<rect x="335" y="534" width="1" height="5" fill="#4040ff"/>
<rect x="360" y="534" width="1" height="5" fill="#4040ff"/>
<rect x="439" y="534" width="13" height="1" fill="#4040ff"/>
<rect x="439" y="538" width="13" height="1" fill="#4040ff"/>
<rect x="439" y="534" width="1" height="5" fill="#4040ff"/>
<rect x="451" y="534" width="1" height="5" fill="#4040ff"/>
<rect x="332" y="538" width="29" height="1" fill="#4040ff"/>
<rect x="332" y="543" width="29" height="1" fill="#4040ff"/>
<rect x="332" y="538" width="1" height="6" fill="#4040ff"/>
<rect x="360" y="538" width="1" height="6" fill="#4040ff"/>
<rect x="439" y="538" width="29" height="1" fill="#4040ff"/>
<rect x="439" y="543" width="29" height="1" fill="#4040ff"/>
<rect x="439" y="538" width="1" height="6" fill="#4040ff"/>
<rect x="467" y="538" width="1" height="6" fill="#4040ff"/>
<rect x="328" y="543" width="33" height="6" fill="#4040ff"/>
<rect x="439" y="543" width="21" height="6" fill="#4040ff"/>
<rect x="330" y="548" width="31" height="1" fill="#4040ff"/>
<rect x="330" y="552" width="31" height="1" fill="#4040ff"/>
<rect x="330" y="548" width="1" height="5" fill="#4040ff"/>
<rect x="360" y="548" width="1" height="5" fill="#4040ff"/>
<rect x="439" y="548" width="33" height="1" fill="#4040ff"/>
<rect x="439" y="552" width="33" height="1" fill="#4040ff"/>
<rect x="439" y="548" width="1" height="5" fill="#4040ff"/>
<rect x="471" y="548" width="1" height="5" fill="#4040ff"/>
<rect x="332" y="552" width="29" height="1" fill="#4040ff"/>
<rect x="332" y="557" width="29" height="1" fill="#4040ff"/>
<rect x="332" y="552" width="1" height="6" fill="#4040ff"/>
<rect x="360" y="552" width="1" height="6" fill="#4040ff"/>
<rect x="439" y="552" width="15" height="1" fill="#4040ff"/>
<rect x="439" y="557" width="15" height="1" fill="#4040ff"/>
<rect x="439" y="552" width="1" height="6" fill="#4040ff"/>
<rect x="453" y="552" width="1" height="6" fill="#4040ff"/>
<rect x="344" y="557" width="17" height="1" fill="#4040ff"/>
<rect x="344" y="561" width="17" height="1" fill="#4040ff"/>
<rect x="344" y="557" width="1" height="5" fill="#4040ff"/>
<rect x="360" y="557" width="1" height="5" fill="#4040ff"/>
<rect x="439" y="557" width="7" height="1" fill="#4040ff"/>
<rect x="439" y="561" width="7" height="1" fill="#4040ff"/>
<rect x="439" y="557" width="1" height="5" fill="#4040ff"/>
<rect x="445" y="557" width="1" height="5" fill="#4040ff"/>
<rect x="340" y="561" width="21" height="1" fill="#4040ff"/>
<rect x="340" y="566" width="21" height="1" fill="#4040ff"/>
<rect x="340" y="561" width="1" height="6" fill="#4040ff"/>
<rect x="360" y="561" width="1" height="6" fill="#4040ff"/>
<rect x="439" y="561" width="13" height="1" fill="#4040ff"/>
<rect x="439" y="566" width="13" height="1" fill="#4040ff"/>
<rect x="439" y="561" width="1" height="6" fill="#4040ff"/>
<rect x="451" y="561" width="1" height="6" fill="#4040ff"/>
<rect x="349" y="566" width="12" height="5" fill="#4040ff"/>
<rect x="439" y="566" width="5" height="5" fill="#4040ff"/>
</g>
<defs><filter id="crisp" x="0" y="0" width="800" height="600" filterUnits="userSpaceOnUse"><feComponentTransfer><feFuncA type="discrete" tableValues="0 1"/></feComponentTransfer></filter></defs>
<g filter="url(#crisp)">
<text x="239.0" y="54" font-size="14.5" stroke="#000" stroke-width="0.55" textLength="33.27" lengthAdjust="spacingAndGlyphs" text-anchor="start">2000</text>
<text x="279.94" y="54" font-size="14.5" stroke="#000" stroke-width="0.55" textLength="53.04" lengthAdjust="spacingAndGlyphs" text-anchor="start">Percent</text>
<text x="340.91" y="54" font-size="14.5" stroke="#000" stroke-width="0.55" textLength="74.67" lengthAdjust="spacingAndGlyphs" text-anchor="start">Population</text>
<text x="424.46" y="54" font-size="14.5" stroke="#000" stroke-width="0.55" textLength="16.32" lengthAdjust="spacingAndGlyphs" text-anchor="start">by</text>
<text x="447.0" y="54" font-size="14.5" stroke="#000" stroke-width="0.55" textLength="29.94" lengthAdjust="spacingAndGlyphs" text-anchor="start">Age</text>
<text x="482.79" y="54" font-size="14.5" stroke="#000" stroke-width="0.55" textLength="18.01" lengthAdjust="spacingAndGlyphs" text-anchor="start">by</text>
<text x="508.0" y="54" font-size="14.5" stroke="#000" stroke-width="0.55" textLength="51.4" lengthAdjust="spacingAndGlyphs" text-anchor="start">Gender</text>
<text x="335.46" y="68" font-size="14.5" stroke="#000" stroke-width="0.55" textLength="41.18" lengthAdjust="spacingAndGlyphs" text-anchor="start">Smith</text>
<text x="384.0" y="68" font-size="14.5" stroke="#000" stroke-width="0.55" textLength="47.1" lengthAdjust="spacingAndGlyphs" text-anchor="start">Center</text>
<text x="437.0" y="68" font-size="14.5" stroke="#000" stroke-width="0.55" textLength="25.7" lengthAdjust="spacingAndGlyphs" text-anchor="start">city</text>
<text x="39.96" y="96" font-size="12.5" font-weight="bold" textLength="28.87" lengthAdjust="spacingAndGlyphs" text-anchor="start">Male</text>
<text x="716.02" y="96" font-size="12.5" font-weight="bold" textLength="42.07" lengthAdjust="spacingAndGlyphs" text-anchor="start">Female</text>
<text x="395.0" y="115" font-size="12.5" stroke="#000" stroke-width="0.4" textLength="13.91" lengthAdjust="spacingAndGlyphs" text-anchor="start">00</text>
<text x="393.0" y="137" font-size="12.5" stroke="#000" stroke-width="0.4" textLength="12.91" lengthAdjust="spacingAndGlyphs" text-anchor="start">95</text>
<text x="393.0" y="160" font-size="12.5" stroke="#000" stroke-width="0.4" textLength="12.91" lengthAdjust="spacingAndGlyphs" text-anchor="start">90</text>
<text x="393.0" y="183" font-size="12.5" stroke="#000" stroke-width="0.4" textLength="12.91" lengthAdjust="spacingAndGlyphs" text-anchor="start">85</text>
<text x="393.0" y="206" font-size="12.5" stroke="#000" stroke-width="0.4" textLength="12.91" lengthAdjust="spacingAndGlyphs" text-anchor="start">80</text>
<text x="393.0" y="229" font-size="12.5" stroke="#000" stroke-width="0.4" textLength="12.91" lengthAdjust="spacingAndGlyphs" text-anchor="start">75</text>
<text x="393.0" y="252" font-size="12.5" stroke="#000" stroke-width="0.4" textLength="12.91" lengthAdjust="spacingAndGlyphs" text-anchor="start">70</text>
<text x="393.0" y="274" font-size="12.5" stroke="#000" stroke-width="0.4" textLength="12.91" lengthAdjust="spacingAndGlyphs" text-anchor="start">65</text>
<text x="393.0" y="297" font-size="12.5" stroke="#000" stroke-width="0.4" textLength="12.91" lengthAdjust="spacingAndGlyphs" text-anchor="start">60</text>
<text x="393.0" y="320" font-size="12.5" stroke="#000" stroke-width="0.4" textLength="12.91" lengthAdjust="spacingAndGlyphs" text-anchor="start">55</text>
<text x="393.0" y="343" font-size="12.5" stroke="#000" stroke-width="0.4" textLength="12.91" lengthAdjust="spacingAndGlyphs" text-anchor="start">50</text>
<text x="393.0" y="366" font-size="12.5" stroke="#000" stroke-width="0.4" textLength="12.91" lengthAdjust="spacingAndGlyphs" text-anchor="start">45</text>
<text x="393.0" y="389" font-size="12.5" stroke="#000" stroke-width="0.4" textLength="12.91" lengthAdjust="spacingAndGlyphs" text-anchor="start">40</text>
<text x="393.0" y="412" font-size="12.5" stroke="#000" stroke-width="0.4" textLength="12.91" lengthAdjust="spacingAndGlyphs" text-anchor="start">35</text>
<text x="393.0" y="434" font-size="12.5" stroke="#000" stroke-width="0.4" textLength="12.91" lengthAdjust="spacingAndGlyphs" text-anchor="start">30</text>
<text x="393.0" y="457" font-size="12.5" stroke="#000" stroke-width="0.4" textLength="12.91" lengthAdjust="spacingAndGlyphs" text-anchor="start">25</text>
<text x="393.0" y="480" font-size="12.5" stroke="#000" stroke-width="0.4" textLength="12.91" lengthAdjust="spacingAndGlyphs" text-anchor="start">20</text>
<text x="399.0" y="503" font-size="12.5" stroke="#000" stroke-width="0.4" textLength="6.95" lengthAdjust="spacingAndGlyphs" text-anchor="start">5</text>
<text x="400.0" y="526" font-size="12.5" stroke="#000" stroke-width="0.4" textLength="5.96" lengthAdjust="spacingAndGlyphs" text-anchor="start">0</text>
<text x="396.0" y="549" font-size="12.5" stroke="#000" stroke-width="0.4" textLength="6.95" lengthAdjust="spacingAndGlyphs" text-anchor="start">5</text>
<text x="396.0" y="571" font-size="12.5" stroke="#000" stroke-width="0.4" textLength="6.95" lengthAdjust="spacingAndGlyphs" text-anchor="start">0</text>
<text x="81.0" y="589" font-size="12.5" stroke="#000" stroke-width="0.15" textLength="18.08" lengthAdjust="spacingAndGlyphs" text-anchor="start">3%</text>
<text x="715.06" y="589" font-size="12.5" stroke="#000" stroke-width="0.15" textLength="17.01" lengthAdjust="spacingAndGlyphs" text-anchor="start">3%</text>
<text x="344.0" y="589" font-size="12.5" stroke="#000" stroke-width="0.15" textLength="10.11" lengthAdjust="spacingAndGlyphs" text-anchor="start">%</text>
<text x="466.0" y="589" font-size="12.5" stroke="#000" stroke-width="0.15" textLength="10.11" lengthAdjust="spacingAndGlyphs" text-anchor="start">%</text>
<text x="167.0" y="589" font-size="12.5" stroke="#000" stroke-width="0.15" textLength="18.08" lengthAdjust="spacingAndGlyphs" text-anchor="start">9%</text>
<text x="253.0" y="589" font-size="12.5" stroke="#000" stroke-width="0.15" textLength="15.07" lengthAdjust="spacingAndGlyphs" text-anchor="start">5%</text>
<text x="546.0" y="589" font-size="12.5" stroke="#000" stroke-width="0.15" textLength="17.07" lengthAdjust="spacingAndGlyphs" text-anchor="start">5%</text>
<text x="630.0" y="589" font-size="12.5" stroke="#000" stroke-width="0.15" textLength="18.08" lengthAdjust="spacingAndGlyphs" text-anchor="start">9%</text>
</g>
<g shape-rendering="crispEdges">
<rect x="393" y="106" width="2" height="9" fill="#000"/>
<rect x="391" y="108" width="2" height="1" fill="#000"/>
<rect x="397" y="494" width="2" height="9" fill="#000"/>
<rect x="395" y="496" width="2" height="1" fill="#000"/>
<rect x="397" y="517" width="2" height="9" fill="#000"/>
<rect x="395" y="519" width="2" height="1" fill="#000"/>
<rect x="80" y="580" width="2" height="9" fill="#000"/>
<rect x="78" y="582" width="2" height="1" fill="#000"/>
<rect x="714" y="580" width="2" height="9" fill="#000"/>
<rect x="712" y="582" width="2" height="1" fill="#000"/>
<rect x="342" y="580" width="2" height="9" fill="#000"/>
<rect x="340" y="582" width="2" height="1" fill="#000"/>
<rect x="464" y="580" width="2" height="9" fill="#000"/>
<rect x="462" y="582" width="2" height="1" fill="#000"/>
</g>
</svg>
</body></html>
